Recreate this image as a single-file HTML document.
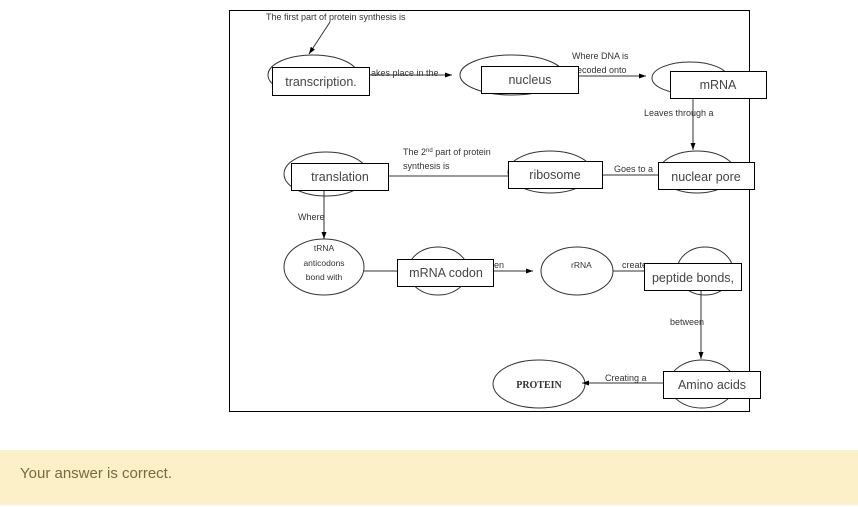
<!DOCTYPE html>
<html><head><meta charset="utf-8"><style>
html,body{margin:0;padding:0;background:#fff;width:858px;height:507px;overflow:hidden;font-family:"Liberation Sans",sans-serif}
.banner{position:absolute;left:0;top:450px;width:858px;height:55px;background:#fcf0c9;}
.banner span{position:absolute;left:20px;top:15px;font-size:15px;color:#7a6a3c;}
svg{position:absolute;left:0;top:0}
</style></head><body>
<svg width="858" height="450" xmlns="http://www.w3.org/2000/svg" font-family="Liberation Sans, sans-serif">
<defs><marker id="a" markerWidth="8" markerHeight="8" refX="7" refY="4" orient="auto" markerUnits="userSpaceOnUse"><path d="M0,1.5 L7,4 L0,6.5z" fill="#000"/></marker></defs>
<rect x="229.5" y="10.5" width="520" height="401" fill="#fff" stroke="#000" stroke-width="1"/>
<g fill="none" stroke="#333" stroke-width="1">
<ellipse cx="313" cy="75" rx="45" ry="20"/>
<ellipse cx="512" cy="75" rx="52" ry="20"/>
<ellipse cx="690" cy="78" rx="38" ry="16"/>
<ellipse cx="697" cy="172" rx="38" ry="21"/>
<ellipse cx="550" cy="172" rx="42" ry="21"/>
<ellipse cx="326" cy="174" rx="42" ry="22"/>
<ellipse cx="324" cy="267" rx="40" ry="28"/>
<ellipse cx="438" cy="271" rx="30" ry="24"/>
<ellipse cx="577" cy="271" rx="36" ry="24"/>
<ellipse cx="705" cy="271" rx="28" ry="24"/>
<ellipse cx="702" cy="384" rx="33" ry="24"/>
<ellipse cx="539" cy="384" rx="46" ry="24"/>
</g>
<g stroke="#333" stroke-width="1" fill="none">
<line x1="330" y1="22" x2="309" y2="54" marker-end="url(#a)"/>
<line x1="370" y1="75" x2="452" y2="75" marker-end="url(#a)"/>
<line x1="578" y1="76" x2="646" y2="76" marker-end="url(#a)"/>
<line x1="693" y1="98" x2="693" y2="150" marker-end="url(#a)"/>
<line x1="602" y1="175" x2="658" y2="175"/>
<line x1="388" y1="176" x2="508" y2="176"/>
<line x1="324" y1="190" x2="324" y2="239" marker-end="url(#a)"/>
<line x1="364" y1="271" x2="397" y2="271"/>
<line x1="485" y1="271" x2="533" y2="271" marker-end="url(#a)"/>
<line x1="613" y1="271" x2="644" y2="271"/>
<line x1="701" y1="290" x2="701" y2="359" marker-end="url(#a)"/>
<line x1="663" y1="383" x2="582" y2="383" marker-end="url(#a)"/>
</g>
<g font-size="9" fill="#333">
<text x="266" y="20">The first part of protein synthesis is</text>
<text x="371" y="76">akes place in the</text>
<text x="572" y="59">Where DNA is</text>
<text x="577" y="73">ecoded onto</text>
<text x="644" y="116">Leaves through a</text>
<text x="403" y="155">The 2<tspan font-size="6" dy="-3">nd</tspan><tspan dy="3"> part of protein</tspan></text>
<text x="403" y="169">synthesis is</text>
<text x="614" y="172">Goes to a</text>
<text x="298" y="220">Where</text>
<text x="324" y="251" text-anchor="middle" font-size="8.5">tRNA</text>
<text x="324" y="266" text-anchor="middle" font-size="8.5">anticodons</text>
<text x="324" y="280" text-anchor="middle" font-size="8.5">bond with</text>
<text x="494" y="268">en</text>
<text x="571" y="268" font-size="8.5">rRNA</text>
<text x="622" y="268">create</text>
<text x="670" y="325">between</text>
<text x="605" y="381">Creating a</text>
<text x="539" y="388" text-anchor="middle" font-family="Liberation Serif, serif" font-weight="bold" font-size="10">PROTEIN</text>
</g>
<g fill="#fff" stroke="#000" stroke-width="1">
<rect x="272.5" y="67.5" width="97" height="28"/>
<rect x="481.5" y="66.5" width="97" height="27"/>
<rect x="670.5" y="71.5" width="96" height="27"/>
<rect x="658.5" y="162.5" width="96" height="27"/>
<rect x="508.5" y="161.5" width="94" height="27"/>
<rect x="291.5" y="163.5" width="97" height="27"/>
<rect x="397.5" y="259.5" width="96" height="27"/>
<rect x="644.5" y="263.5" width="97" height="27"/>
<rect x="663.5" y="371.5" width="97" height="27"/>
</g>
<g font-size="12.5" fill="#444" text-anchor="middle">
<text x="321" y="86">transcription.</text>
<text x="530" y="84">nucleus</text>
<text x="718" y="89">mRNA</text>
<text x="706" y="181">nuclear pore</text>
<text x="555" y="179">ribosome</text>
<text x="340" y="181">translation</text>
<text x="446" y="277">mRNA codon</text>
<text x="693" y="282">peptide bonds,</text>
<text x="712" y="389">Amino acids</text>
</g>
</svg>
<div class="banner"><span>Your answer is correct.</span></div>
</body></html>
